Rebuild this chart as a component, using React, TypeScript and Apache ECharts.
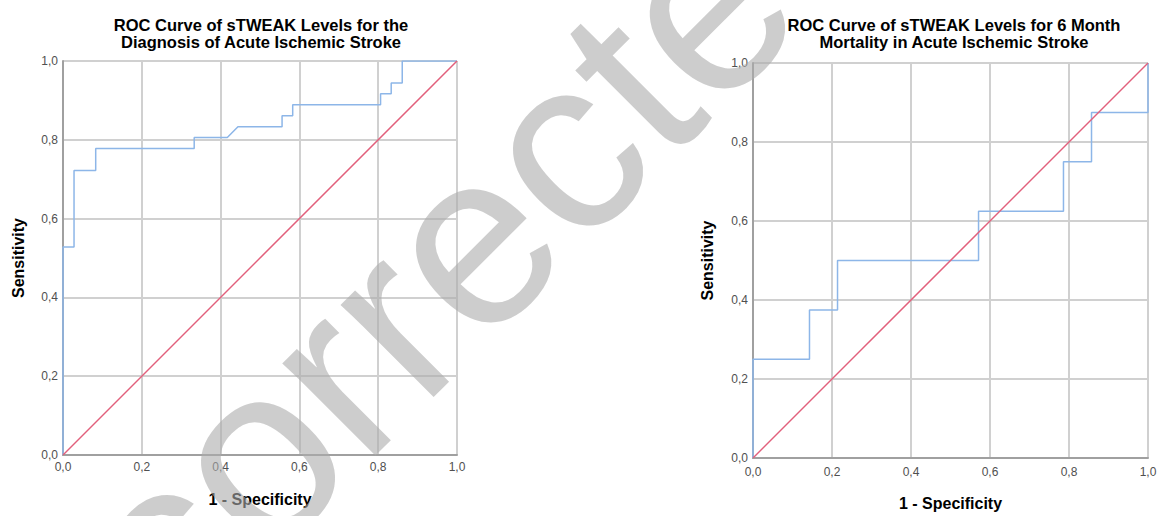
import React, { useEffect, useRef } from "react";
import * as echarts from "echarts";

// Chart 1: diagnosis of acute ischemic stroke
const title1 = "ROC Curve of sTWEAK Levels for the\nDiagnosis of Acute Ischemic Stroke";
const fpr1 = [0, 0, 0.028, 0.028, 0.083, 0.083, 0.333, 0.333, 0.417, 0.444, 0.556, 0.556, 0.583, 0.583, 0.806, 0.806, 0.833, 0.833, 0.861, 0.861, 1.0];
const tpr1 = [0, 0.528, 0.528, 0.722, 0.722, 0.778, 0.778, 0.806, 0.806, 0.833, 0.833, 0.861, 0.861, 0.889, 0.889, 0.917, 0.917, 0.944, 0.944, 1.0, 1.0];

// Chart 2: 6 month mortality
const title2 = "ROC Curve of sTWEAK Levels for 6 Month\nMortality in Acute Ischemic Stroke";
const fpr2 = [0, 0, 0.143, 0.143, 0.214, 0.214, 0.571, 0.571, 0.786, 0.786, 0.857, 0.857, 1.0, 1.0];
const tpr2 = [0, 0.25, 0.25, 0.375, 0.375, 0.5, 0.5, 0.625, 0.625, 0.75, 0.75, 0.875, 0.875, 1.0];

const refX = [0, 1];
const refY = [0, 1];

const xName = "1 - Specificity";
const yName = "Sensitivity";
const watermark = "corrected";

const FONT = "'Liberation Sans', Arial, Helvetica, sans-serif";

function zip(a: number[], b: number[]) {
  return a.map((v, i) => [v, b[i]]);
}

export default function App() {
  const ref = useRef<HTMLDivElement>(null);
  useEffect(() => {
    if (!ref.current) return;
    const chart = echarts.init(ref.current, undefined, { renderer: "svg" });
    const fmt = (v: number) => v.toFixed(1).replace(".", ",");
    const mkX = (gi: number, gap: number, lm: number) => ({
      type: "value",
      gridIndex: gi,
      min: 0,
      max: 1,
      interval: 0.2,
      name: xName,
      nameLocation: "middle",
      nameGap: gap,
      nameTextStyle: { fontFamily: FONT, fontSize: 16, fontWeight: "bold", color: "#000" },
      axisLine: { show: true, lineStyle: { color: "#a0a0a0", width: 2 } },
      axisTick: { show: false },
      axisLabel: { fontFamily: FONT, fontSize: 12, color: "#505050", margin: lm, formatter: fmt, showMinLabel: true, showMaxLabel: true },
      splitLine: { show: true, lineStyle: { color: "#d0d0d0", width: 2 } },
    });
    const mkY = (gi: number, gap: number) => ({
      type: "value",
      gridIndex: gi,
      min: 0,
      max: 1,
      interval: 0.2,
      name: yName,
      nameLocation: "middle",
      nameGap: gap,
      nameTextStyle: { fontFamily: FONT, fontSize: 16, fontWeight: "bold", color: "#000" },
      axisLine: { show: true, lineStyle: { color: "#a0a0a0", width: 2 } },
      axisTick: { show: false },
      axisLabel: { fontFamily: FONT, fontSize: 12, color: "#505050", margin: 5, formatter: fmt },
      splitLine: { show: true, lineStyle: { color: "#d0d0d0", width: 2 } },
    });
    const lineSeries = (gi: number, data: number[][], color: string, z: number) => ({
      type: "line",
      xAxisIndex: gi,
      yAxisIndex: gi,
      data,
      showSymbol: false,
      symbol: "none",
      lineStyle: { color, width: 1.5 },
      z,
      silent: true,
    });
    chart.setOption({
      animation: false,
      backgroundColor: "#fff",
      title: [
        {
          text: title1,
          left: 256,
          top: 11,
          textAlign: "center",
          textStyle: { fontFamily: FONT, fontSize: 16.5, fontWeight: "bold", color: "#000", lineHeight: 17 },
        },
        {
          text: title2,
          left: 949,
          top: 11,
          textAlign: "center",
          textStyle: { fontFamily: FONT, fontSize: 16.5, fontWeight: "bold", color: "#000", lineHeight: 17 },
        },
      ],
      grid: [
        { left: 63, top: 61, width: 394, height: 394 },
        { left: 753, top: 63, width: 395, height: 397 },
      ],
      xAxis: [mkX(0, 36, 6), mkX(1, 37, 8)],
      yAxis: [mkY(0, 37), mkY(1, 38)],
      series: [
        lineSeries(0, zip(fpr1, tpr1), "#8db6e8", 3),
        lineSeries(0, zip(refX, refY), "#e2607c", 4),
        lineSeries(1, zip(fpr2, tpr2), "#8db6e8", 3),
        lineSeries(1, zip(refX, refY), "#e2607c", 4),
      ],
      graphic: [
        {
          type: "text",
          x: 483,
          y: 227,
          rotation: Math.PI / 4,
          z: 100,
          silent: true,
          style: {
            text: watermark,
            fontFamily: FONT,
            fontSize: 248,
            fill: "rgba(172,172,172,0.6)",
            textAlign: "center",
            textVerticalAlign: "middle",
          },
        },
      ],
    });
    return () => chart.dispose();
  }, []);
  return (
    <div
      ref={ref}
      style={{ position: "fixed", left: 0, top: 0, width: 1160, height: 516, background: "#fff" }}
    />
  );
}
